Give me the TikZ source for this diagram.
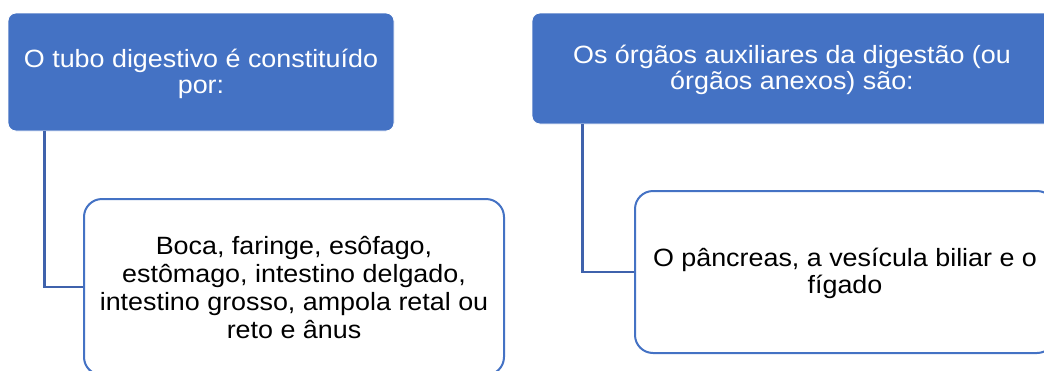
\documentclass[tikz,border=0pt]{standalone}
\usepackage{fontspec}
\setmainfont{Liberation Sans}[FakeStretch=1.075]
\definecolor{hdblue}{HTML}{4472C4}
\definecolor{lnblue}{HTML}{3F62AC}
% #1: extra blank space on top (twice the downward shift of the text)
\newcommand\mylines[2]{\raisebox{0pt}[\dimexpr\height+#1\relax]{\begin{tabular}{@{}c@{}}#2\end{tabular}}}
\begin{document}
\begin{tikzpicture}[x=1pt,y=-1pt,
  headbox/.style={fill=hdblue,draw=white,line width=0.8pt,rounded corners=8pt,text=white,
    inner sep=0pt,font=\fontsize{25}{26.5}\selectfont},
  itembox/.style={fill=white,draw=hdblue,line width=2pt,rounded corners=18pt,text=black,
    inner sep=0pt,font=\fontsize{25}{28}\selectfont},
  conn/.style={draw=lnblue,line width=2.6pt}]
\useasboundingbox (0,0) rectangle (1044,370);
% left branch
\node[headbox,minimum width=386pt,minimum height=118pt] (t1) at (201,72)
  {\mylines{6pt}{O tubo digestivo é constituído\\por:}};
\node[itembox,minimum width=420pt,minimum height=176pt] (b1) at (294,287)
  {\mylines{8pt}{Boca, faringe, esôfago,\\estômago, intestino delgado,\\intestino grosso, ampola retal ou\\reto e ânus}};
\draw[conn] ([xshift=37pt]t1.south west) |- (b1.west);
% right branch
\node[headbox,minimum width=520pt,minimum height=111pt] (t2) at (792,68.5)
  {\mylines{5pt}{Os órgãos auxiliares da digestão (ou\\órgãos anexos) são:}};
\node[itembox,minimum width=420pt,minimum height=162pt,font=\fontsize{25}{26.7}\selectfont] (b2) at (845,272)
  {\mylines{5.4pt}{O pâncreas, a vesícula biliar e o\\fígado}};
\draw[conn] ([xshift=51pt]t2.south west) |- (b2.west);
\end{tikzpicture}
\end{document}
